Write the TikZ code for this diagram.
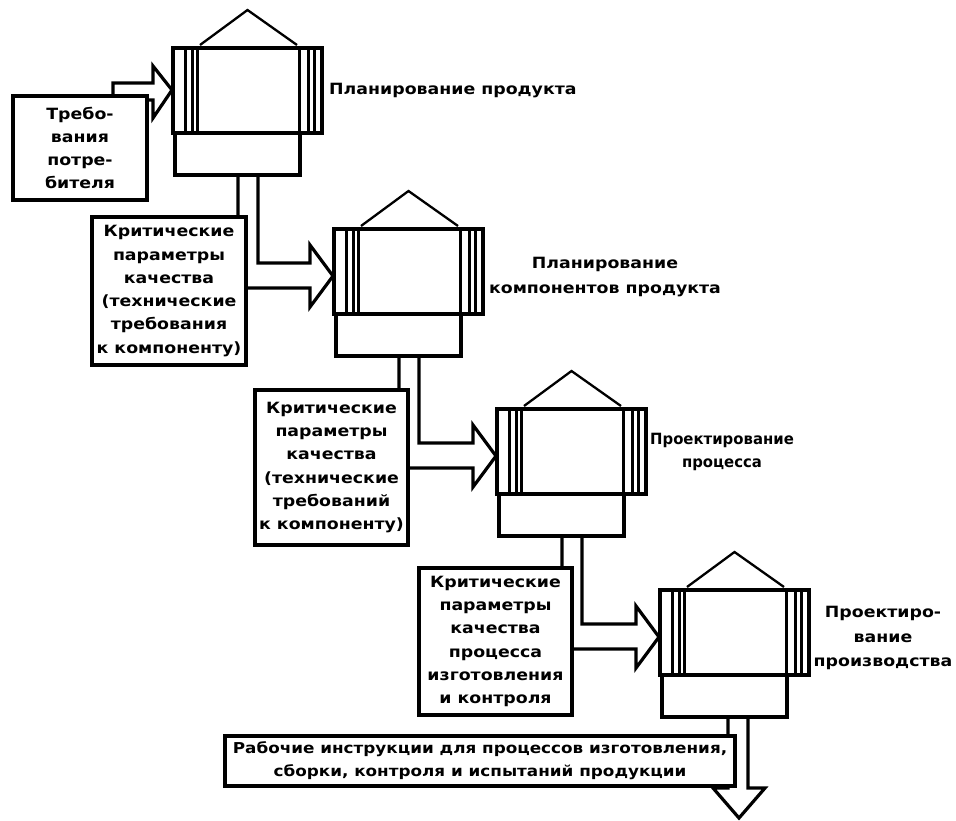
\documentclass[tikz,border=0pt]{standalone}
\usepackage{fontspec}
\setmainfont{DejaVu Sans}[FakeStretch=1.12]
\newfontfamily\narrowsans{DejaVu Sans}[FakeStretch=0.96]
\usetikzlibrary{calc}
\pgfdeclarelayer{bg}
\pgfsetlayers{bg,main}

\tikzset{
  stripe/.style={line width=3pt},
  roof/.style={line width=2.3pt, line join=miter},
  block/.style={draw, line width=3.2pt, fill=white, inner sep=0pt, outer sep=0pt, anchor=north west},
  txt/.style={font=\bfseries\fontsize{15.5}{23.3}\selectfont, align=center, inner sep=0pt},
  lbltxt/.style={font=\bfseries\fontsize{15.5}{24.5}\selectfont, align=center, inner sep=0pt},
  blockarrow/.style={line width=3.2pt, line join=miter},
}

\newcommand\qfdbox[3]{%
  \node[block, minimum width=125pt, minimum height=42pt] (#1low) at ($(#2,#3)+(2,85)$) {};
  \node[block, minimum width=149pt, minimum height=85pt] (#1) at (#2,#3) {};
  \foreach \dx in {12,19,24,126,135,141}
    \draw[stripe] ($(#1.north west)+(\dx,0)$) -- ($(#1.south west)+(\dx,0)$);
  \draw[roof] ($(#1.north west)+(27,-3)$) -- ($(#1.north)+(0,-38)$) -- ($(#1.north west)+(124,-3)$);
}

\newcommand\flowarrow[2]{%
  \draw[blockarrow]
    ($(#1low.south west)+(63,0)$) |- ($(#2.north west)+(-24,59)$)
    -- ($(#2.north west)+(-24,78)$)
    -- ($(#2.north west)+(-1,47)$)
    -- ($(#2.north west)+(-24,16)$)
    -- ($(#2.north west)+(-24,34)$)
    -| ($(#1low.south west)+(83,0)$);
}

\begin{document}
\begin{tikzpicture}[x=1pt,y=-1pt]
\useasboundingbox (0,0) rectangle (956,820);

% main process boxes
\qfdbox{b1}{173}{48}
\qfdbox{b2}{334}{229}
\qfdbox{b3}{497}{409}
\qfdbox{b4}{660}{590}

% input / output boxes
\node[block, txt, anchor=center, minimum width=134pt, minimum height=104pt] (req) at (80,148)
  {Требо-\\вания\\потре-\\бителя};
\node[block, txt, anchor=center, minimum width=154pt, minimum height=148pt] (k1) at (169,291)
  {Критические\\параметры\\качества\\(технические\\требования\\к компоненту)};
\node[block, txt, anchor=center, minimum width=153pt, minimum height=155pt] (k2) at (331.5,467.5)
  {Критические\\параметры\\качества\\(технические\\требований\\к компоненту)};
\node[block, txt, anchor=center, minimum width=153pt, minimum height=147pt] (k3) at (495.5,641.5)
  {Критические\\параметры\\качества\\процесса\\изготовления\\и контроля};
\node[block, txt, anchor=center, minimum width=510pt, minimum height=50pt,
      font=\bfseries\fontsize{15}{23}\selectfont] (work) at (480,761)
  {Рабочие инструкции для процессов изготовления,\\сборки, контроля и испытаний продукции};

% stage labels
\node[lbltxt, anchor=west] (l1) at (329,91) {Планирование продукта};
\node[lbltxt] (l2) at (605,277) {Планирование\\компонентов продукта};
\node[lbltxt, font=\narrowsans\bfseries\fontsize{15.5}{23}\selectfont] (l3) at (722,452) {Проектирование\\процесса};
\node[lbltxt] (l4) at (883,638) {Проектиро-\\вание\\производства};

\begin{pgfonlayer}{bg}
  \fill[white] (0,0) rectangle (956,820);
  % input arrow
  \draw[blockarrow]
    ($(b1.north west)+(-60,52)$) -- ($(b1.north west)+(-60,35)$)
    -- ($(b1.north west)+(-20,35)$) -- ($(b1.north west)+(-20,18)$)
    -- ($(b1.north west)+(-1,42)$) -- ($(b1.north west)+(-20,70)$)
    -- ($(b1.north west)+(-20,52)$) -- cycle;
  \flowarrow{b1}{b2}
  \flowarrow{b2}{b3}
  \flowarrow{b3}{b4}
  % output arrow
  \draw[blockarrow]
    ($(b4low.south west)+(66,0)$) -- ++(0,71) -- ++(-15,0) -- ++(26,30)
    -- ++(26,-30) -- ++(-17,0) -- ($(b4low.south west)+(86,0)$);
\end{pgfonlayer}
\end{tikzpicture}
\end{document}
